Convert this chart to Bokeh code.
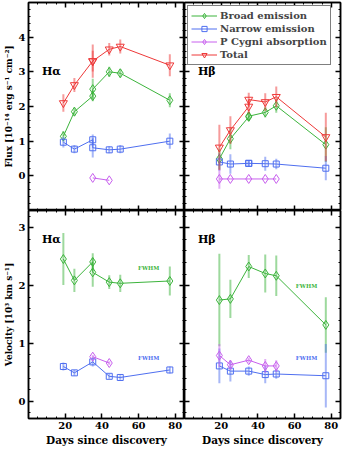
from bokeh.plotting import figure
from bokeh.models import (Range1d, LinearAxis, FixedTicker, Legend, LegendItem,
                          Label, ColumnDataSource)
from bokeh.layouts import gridplot
from bokeh.embed import file_html
from bokeh.resources import INLINE

# ---------------- data ----------------
# Halpha flux (10^-14 erg s^-1 cm^-2)
ha_days = [19, 25, 35, 35, 44, 50, 77]
ha_broad_flux = [1.14, 1.85, 2.30, 2.50, 3.00, 2.96, 2.18]
ha_broad_flux_err = [0.15, 0.12, 0.15, 0.30, 0.15, 0.12, 0.20]
ha_narrow_flux = [0.97, 0.77, 1.04, 0.81, 0.75, 0.77, 1.00]
ha_narrow_flux_err = [0.15, 0.12, 0.15, 0.28, 0.10, 0.12, 0.22]
ha_total_flux = [2.10, 2.62, 3.31, 3.31, 3.65, 3.73, 3.19]
ha_total_flux_err = [0.25, 0.20, 0.48, 0.30, 0.18, 0.20, 0.32]
ha_pcyg_days = [35, 44]
ha_pcyg_flux = [-0.06, -0.13]
ha_pcyg_flux_err = [0.0, 0.0]

# Hbeta flux
hb_days = [19, 25, 35, 35, 44, 50, 77]
hb_broad_flux = [0.49, 1.07, 1.70, 1.72, 1.83, 2.02, 0.90]
hb_broad_flux_err = [0.30, 0.30, 0.12, 0.12, 0.15, 0.20, 0.50]
hb_narrow_flux = [0.40, 0.34, 0.36, 0.36, 0.35, 0.34, 0.22]
hb_narrow_flux_err = [0.25, 0.28, 0.10, 0.10, 0.20, 0.15, 0.35]
hb_total_flux = [0.82, 1.32, 2.00, 2.20, 2.13, 2.28, 1.12]
hb_total_flux_err = [0.65, 0.40, 0.20, 0.20, 0.25, 0.30, 0.70]
hb_pcyg_days = [19, 25, 35, 44, 50]
hb_pcyg_flux = [-0.09, -0.09, -0.09, -0.09, -0.09]
hb_pcyg_flux_err = [0.28, 0.0, 0.0, 0.0, 0.0]

# Halpha velocity (10^3 km s^-1)
ha_v_broad_days = [19, 25, 35, 35, 44, 50, 77]
ha_v_broad = [2.46, 2.09, 2.41, 2.23, 2.06, 2.04, 2.08]
ha_v_broad_err = [0.45, 0.20, 0.15, 0.25, 0.12, 0.15, 0.25]
ha_v_narrow_days = [19, 25, 35, 44, 50, 77]
ha_v_narrow = [0.60, 0.49, 0.68, 0.43, 0.41, 0.54]
ha_v_narrow_err = [0.07, 0.05, 0.08, 0.04, 0.04, 0.06]
ha_v_pcyg_days = [35, 44]
ha_v_pcyg = [0.77, 0.66]
ha_v_pcyg_err = [0.03, 0.03]

# Hbeta velocity
hb_v_days = [19, 25, 35, 44, 50, 77]
hb_v_broad = [1.75, 1.77, 2.33, 2.21, 2.17, 1.32]
hb_v_broad_err = [0.80, 0.33, 0.20, 0.33, 0.35, 0.48]
hb_v_narrow = [0.61, 0.52, 0.52, 0.46, 0.47, 0.44]
hb_v_narrow_err = [0.30, 0.18, 0.08, 0.15, 0.08, 0.55]
hb_v_pcyg_days = [19, 25, 35, 44, 50]
hb_v_pcyg = [0.79, 0.63, 0.71, 0.61, 0.61]
hb_v_pcyg_err = [0.20, 0.08, 0.04, 0.12, 0.10]

x_major = [20, 40, 60, 80]
flux_major = [0, 1, 2, 3, 4]
vel_major = [0, 1, 2, 3]

GREEN = "#3cb43c"
BLUE = "#4f6ff0"
PURPLE = "#c860ee"
RED = "#ee3838"
FONT = "DejaVu Serif"

FW, FH = 156, 208


def style_axis(ax, labelled, ticks):
    ax.major_tick_in = 5
    ax.major_tick_out = 0
    ax.minor_tick_in = 2
    ax.minor_tick_out = 0
    ax.major_tick_line_width = 1.5
    ax.minor_tick_line_width = 1
    ax.axis_line_width = 1.5
    ax.axis_line_color = "black"
    if labelled:
        ax.major_label_text_font = FONT
        ax.major_label_text_font_style = "bold"
        ax.major_label_text_font_size = "10px"
        ax.major_label_text_color = "black"
        ax.major_label_standoff = 3
        ax.axis_label_text_font = FONT
        ax.axis_label_text_font_style = "bold"
        ax.axis_label_text_color = "black"
        ax.axis_label_standoff = 2
    else:
        ax.major_label_overrides = {t: "" for t in ticks}
        ax.major_label_text_font_size = "1px"
        ax.major_label_standoff = 0
        ax.axis_label = None


def make_fig(yr, ymajor, yminor, is_left, is_top, ylabel=None):
    xminor = [v for v in range(5, 86, 5) if v not in x_major]
    p = figure(frame_width=FW, frame_height=FH,
               x_range=Range1d(0, 85), y_range=Range1d(*yr),
               output_backend="svg", toolbar_location=None,
               min_border_left=20 if is_left else 0,
               min_border_right=0 if is_left else 3,
               min_border_top=2 if is_top else 0,
               min_border_bottom=0 if is_top else 28)
    p.xgrid.visible = False
    p.ygrid.visible = False
    p.outline_line_color = "black"
    p.outline_line_width = 1.5
    p.background_fill_color = "white"
    p.border_fill_color = "white"
    xt = FixedTicker(ticks=x_major, minor_ticks=xminor)
    yt = FixedTicker(ticks=ymajor, minor_ticks=yminor)
    p.xaxis.ticker = xt
    p.yaxis.ticker = yt
    style_axis(p.xaxis[0], not is_top, x_major)
    style_axis(p.yaxis[0], is_left, ymajor)
    if not is_top:
        p.xaxis[0].axis_label = "Days since discovery"
        p.xaxis[0].axis_label_text_font_size = "10.5px"
    if is_left:
        p.yaxis[0].axis_label = ylabel
        p.yaxis[0].axis_label_text_font_size = "9px"
    top = LinearAxis(ticker=xt)
    right = LinearAxis(ticker=yt)
    style_axis(top, False, x_major)
    style_axis(right, False, ymajor)
    p.add_layout(top, "above")
    p.add_layout(right, "right")
    return p


def series(p, x, y, err, color, marker, size):
    src = ColumnDataSource(dict(x=x, y=y,
                                lo=[a - b for a, b in zip(y, err)],
                                hi=[a + b for a, b in zip(y, err)]))
    p.segment("x", "lo", "x", "hi", source=src, line_color=color,
              line_alpha=0.5, line_width=2)
    l = p.line("x", "y", source=src, line_color=color, line_width=1)
    s = p.scatter("x", "y", source=src, marker=marker, size=size,
                  line_color=color, fill_color=None, line_width=1)
    return l, s


def add_text(p, x, y, text, size="10px", color="black", align="left"):
    p.add_layout(Label(x=x, y=y, text=text, text_font=FONT,
                       text_font_style="bold", text_font_size=size,
                       text_color=color, text_align=align,
                       text_baseline="middle"))


flux_minor = [round(-1 + 0.2 * i, 2) for i in range(31)]
vel_minor = [round(-0.2 + 0.2 * i, 2) for i in range(18)]

flux_label = "Flux [10\u207b\u00b9\u2074 erg s\u207b\u00b9 cm\u207b\u00b2]"
vel_label = "Velocity [10\u00b3 km s\u207b\u00b9]"

DSZ, SSZ, TSZ = 9, 6, 8

# ---- top left: Halpha flux
p1 = make_fig((-1, 5), flux_major, flux_minor, True, True, flux_label)
series(p1, ha_days, ha_broad_flux, ha_broad_flux_err, GREEN, "diamond", DSZ)
series(p1, ha_days, ha_narrow_flux, ha_narrow_flux_err, BLUE, "square", SSZ)
series(p1, ha_pcyg_days, ha_pcyg_flux, ha_pcyg_flux_err, PURPLE, "diamond", DSZ)
series(p1, ha_days, ha_total_flux, ha_total_flux_err, RED, "inverted_triangle", TSZ)
add_text(p1, 7.3, 3.0, "H\u03b1", "11px")

# ---- top right: Hbeta flux
p2 = make_fig((-1, 5), flux_major, flux_minor, False, True)
lb = series(p2, hb_days, hb_broad_flux, hb_broad_flux_err, GREEN, "diamond", DSZ)
ln = series(p2, hb_days, hb_narrow_flux, hb_narrow_flux_err, BLUE, "square", SSZ)
lp = series(p2, hb_pcyg_days, hb_pcyg_flux, hb_pcyg_flux_err, PURPLE, "diamond", DSZ)
lt = series(p2, hb_days, hb_total_flux, hb_total_flux_err, RED, "inverted_triangle", TSZ)
add_text(p2, 7.3, 3.0, "H\u03b2", "11px")
legend = Legend(items=[
    LegendItem(label="Broad emission", renderers=list(lb)),
    LegendItem(label="Narrow emission", renderers=list(ln)),
    LegendItem(label="P Cygni absorption", renderers=list(lp)),
    LegendItem(label="Total", renderers=list(lt)),
], location="top_left")
legend.margin = 3
legend.padding = 3
legend.spacing = 0
legend.label_text_font = FONT
legend.label_text_font_style = "bold"
legend.label_text_font_size = "10px"
legend.label_height = 13
legend.glyph_height = 13
legend.glyph_width = 26
legend.label_standoff = 3
legend.border_line_color = "black"
legend.border_line_width = 1
legend.background_fill_alpha = 1
p2.add_layout(legend)

# ---- bottom left: Halpha velocity
p3 = make_fig((-0.3, 3.3), vel_major, vel_minor, True, False, vel_label)
series(p3, ha_v_broad_days, ha_v_broad, ha_v_broad_err, GREEN, "diamond", DSZ)
series(p3, ha_v_narrow_days, ha_v_narrow, ha_v_narrow_err, BLUE, "square", SSZ)
series(p3, ha_v_pcyg_days, ha_v_pcyg, ha_v_pcyg_err, PURPLE, "diamond", DSZ)
add_text(p3, 7.3, 2.8, "H\u03b1", "11px")
add_text(p3, 65.5, 2.31, "FWHM", "5.5px", GREEN, "center")
add_text(p3, 65.5, 0.75, "FWHM", "5.5px", BLUE, "center")

# ---- bottom right: Hbeta velocity
p4 = make_fig((-0.3, 3.3), vel_major, vel_minor, False, False)
series(p4, hb_v_days, hb_v_broad, hb_v_broad_err, GREEN, "diamond", DSZ)
series(p4, hb_v_days, hb_v_narrow, hb_v_narrow_err, BLUE, "square", SSZ)
series(p4, hb_v_pcyg_days, hb_v_pcyg, hb_v_pcyg_err, PURPLE, "diamond", DSZ)
add_text(p4, 7.3, 2.8, "H\u03b2", "11px")
add_text(p4, 66.5, 2.0, "FWHM", "5.5px", GREEN, "center")
add_text(p4, 66.5, 0.75, "FWHM", "5.5px", BLUE, "center")

grid = gridplot([[p1, p2], [p3, p4]], toolbar_location=None)

open("out.html", "w").write(file_html(grid, INLINE))
